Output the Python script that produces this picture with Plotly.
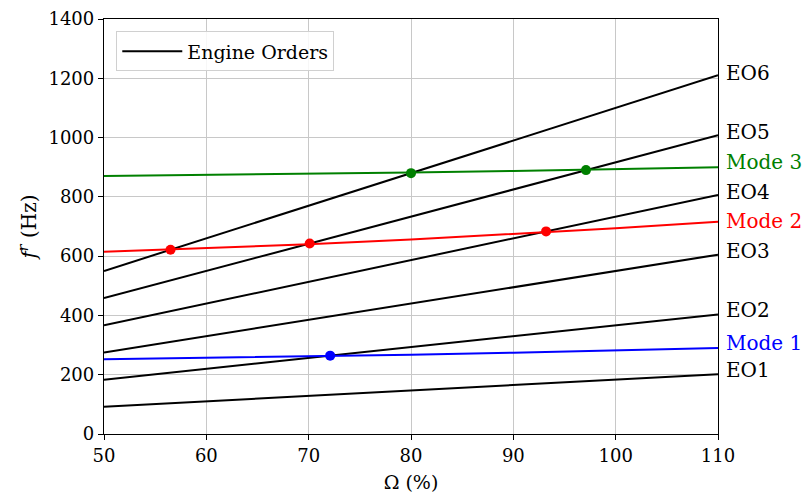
import plotly.graph_objects as go

# ---- data ----
omega_ends = [50, 110]
eo_orders = [1, 2, 3, 4, 5, 6]
eo_ends = {  # f at Omega = 50 and 110 (Hz)
    1: [91.7, 201.7],
    2: [183.3, 403.3],
    3: [275.0, 605.0],
    4: [366.7, 806.7],
    5: [458.3, 1008.3],
    6: [550.0, 1210.0],
}
mode_omega = [50, 60, 70, 80, 90, 100, 110]
mode1 = [252, 256.3, 261.5, 267.4, 274.2, 281.7, 290]
mode2 = [615, 626.6, 640.2, 656, 674, 694, 716]
mode3 = [870, 873.5, 877.5, 882, 887.5, 893.5, 900]

cross1_x = [72.1]
cross1_y = [264.3]
cross2_x = [56.5, 70.1, 93.2]
cross2_y = [621.5, 642.6, 683.5]
cross3_x = [80.0, 97.1]
cross3_y = [880.0, 890.2]

eo_labels = ["EO1", "EO2", "EO3", "EO4", "EO5", "EO6"]
eo_label_y = [215, 418, 618, 817, 1019, 1217]
mode_labels = ["Mode 1", "Mode 2", "Mode 3"]
mode_label_y = [307, 718, 917]
mode_colors = ["#0000ff", "#ff0000", "#008000"]

FONT = "DejaVu Serif"

fig = go.Figure()
for i, k in enumerate(eo_orders):
    fig.add_trace(go.Scatter(
        x=omega_ends, y=eo_ends[k], mode="lines",
        line=dict(color="black", width=2),
        name="Engine Orders", showlegend=(i == 0), hoverinfo="skip"))

for ys, c in zip([mode1, mode2, mode3], mode_colors):
    fig.add_trace(go.Scatter(x=mode_omega, y=ys, mode="lines",
                             line=dict(color=c, width=2), showlegend=False))

for xs, ys, c in zip([cross1_x, cross2_x, cross3_x], [cross1_y, cross2_y, cross3_y], mode_colors):
    fig.add_trace(go.Scatter(x=xs, y=ys, mode="markers",
                             marker=dict(color=c, size=10), showlegend=False))

for lab, yv in zip(eo_labels, eo_label_y):
    fig.add_annotation(x=1.0, xref="paper", y=yv, yref="y", text=lab,
                       showarrow=False, xanchor="left", xshift=6,
                       font=dict(family=FONT, size=20, color="black"))
for lab, yv, c in zip(mode_labels, mode_label_y, mode_colors):
    fig.add_annotation(x=1.0, xref="paper", y=yv, yref="y", text=lab,
                       showarrow=False, xanchor="left", xshift=6,
                       font=dict(family=FONT, size=20, color=c))

axis_common = dict(
    showgrid=True, gridcolor="#c8c8c8", gridwidth=1,
    showline=True, linecolor="black", linewidth=1.3, mirror=True,
    ticks="outside", ticklen=5, tickcolor="black", tickwidth=1.3,
    tickfont=dict(family=FONT, size=18, color="black"),
    zeroline=False, automargin=False,
)
fig.update_xaxes(range=[50, 110], tickvals=[50, 60, 70, 80, 90, 100, 110],
                 title=dict(text="Ω (%)", font=dict(family=FONT, size=19, color="black"),
                            standoff=10),
                 **axis_common)
fig.update_yaxes(range=[0, 1400], tickvals=list(range(0, 1401, 200)),
                 title=dict(text="<i>f</i><sup><i>r</i></sup> (Hz)",
                            font=dict(family=FONT, size=20, color="black"), standoff=6),
                 **axis_common)

fig.update_layout(
    width=810, height=493,
    margin=dict(l=104, r=92, t=19, b=59),
    plot_bgcolor="white", paper_bgcolor="white",
    font=dict(family=FONT, color="black"),
    legend=dict(x=0.02, y=0.97, xanchor="left", yanchor="top",
                bgcolor="rgba(255,255,255,0.85)", bordercolor="#d0d0d0", borderwidth=1,
                itemwidth=60,
                font=dict(family=FONT, size=19, color="black")),
    showlegend=True,
)

fig.write_html("out.html", config={"displayModeBar": False},
               post_script="document.body.style.margin='0';document.body.style.overflow='hidden';")
